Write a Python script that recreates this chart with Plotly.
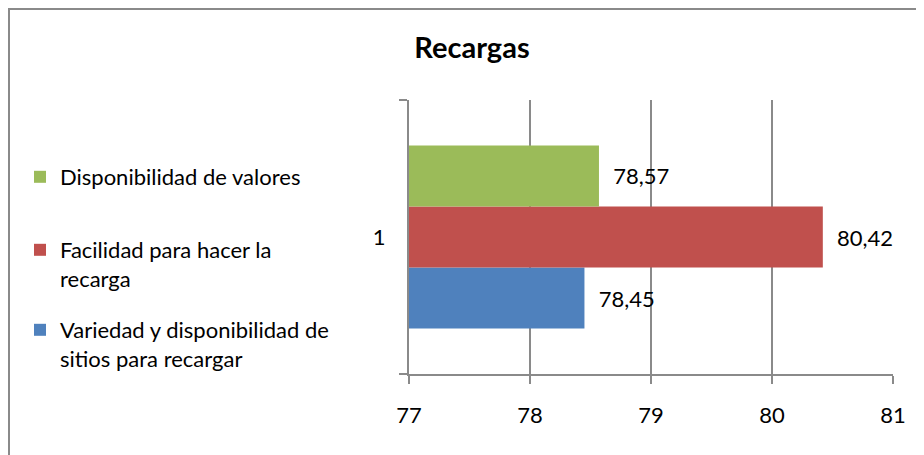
import plotly.graph_objects as go

# ---- data ----
categories = ["1"]
series_names = [
    "Variedad y disponibilidad de<br>sitios para recargar",
    "Facilidad para hacer la<br>recarga",
    "Disponibilidad de valores",
]
series_values = [
    [78.45],
    [80.42],
    [78.57],
]
series_colors = ["#4F81BD", "#C0504D", "#9BBB59"]
x_ticks = [77, 78, 79, 80, 81]
title_text = "Recargas"

FONT = "Lato, Carlito, Calibri, Liberation Sans, sans-serif"
GRID = "#8a8a8a"

OFF = 8  # page body margin
W, H = 924 - OFF, 455 - OFF
L, R, T, B = 409 - OFF, 31, 100 - OFF, 81
PW, PH = W - L - R, H - T - B

def px_x(px):
    return (px - OFF - L) / PW

def px_y(py):
    return (H - B - (py - OFF)) / PH

legend_names = ["legend3", "legend2", "legend"]
legend_centers = [344.5, 264.5, 177]

fig = go.Figure()
for name, vals, col, lg in zip(series_names, series_values, series_colors, legend_names):
    fig.add_trace(go.Bar(
        y=categories, x=vals, name=name, orientation="h",
        marker=dict(color=col, line=dict(width=0)),
        texttemplate="\u00a0\u00a0%{x:.2f}", textposition="outside",
        textfont=dict(family=FONT, size=22, color="#000000"),
        cliponaxis=False, legend=lg,
    ))

legend_common = dict(
    font=dict(family=FONT, size=22, color="#000000"),
    xanchor="left", yanchor="middle", valign="top",
    bgcolor="rgba(0,0,0,0)", borderwidth=0, tracegroupgap=0,
)
layout_legends = {}
for lg, cy in zip(legend_names, legend_centers):
    layout_legends[lg] = dict(legend_common, x=px_x(20), y=px_y(cy))

fig.update_layout(
    width=W, height=H,
    margin=dict(l=L, r=R, t=T, b=B, pad=0),
    paper_bgcolor="#ffffff", plot_bgcolor="#ffffff",
    separators=",.",
    barmode="group", bargap=0.332, bargroupgap=0,
    showlegend=True,
    title=dict(text=title_text, x=(472 - OFF) / W, xref="container", xanchor="center",
               y=1 - (48 - OFF) / H, yref="container", yanchor="middle",
               font=dict(family=FONT, size=29, color="#000000", weight="bold")),
    xaxis=dict(range=[77, 81], tickvals=x_ticks, ticktext=[str(v) for v in x_ticks],
               showgrid=True, gridcolor=GRID, gridwidth=2,
               showline=True, linecolor=GRID, linewidth=2,
               ticks="outside", ticklen=8, tickwidth=2, tickcolor=GRID,
               ticklabelstandoff=13, zeroline=False,
               tickfont=dict(family=FONT, size=22, color="#000000")),
    yaxis=dict(type="category", showgrid=False, showline=True, linecolor=GRID, linewidth=2,
               ticks="outside", tickson="boundaries", ticklen=8, tickwidth=2, tickcolor=GRID,
               ticklabelstandoff=17, zeroline=False,
               tickfont=dict(family=FONT, size=22, color="#000000")),
    shapes=[dict(type="rect", xref="paper", yref="paper",
                 x0=px_x(OFF + 1), x1=px_x(W + 40), y0=px_y(H + 40), y1=px_y(OFF + 1),
                 line=dict(color="#8a8a8a", width=2), fillcolor="rgba(0,0,0,0)",
                 layer="below")],
    **layout_legends,
)

fig.write_html("out.html")
